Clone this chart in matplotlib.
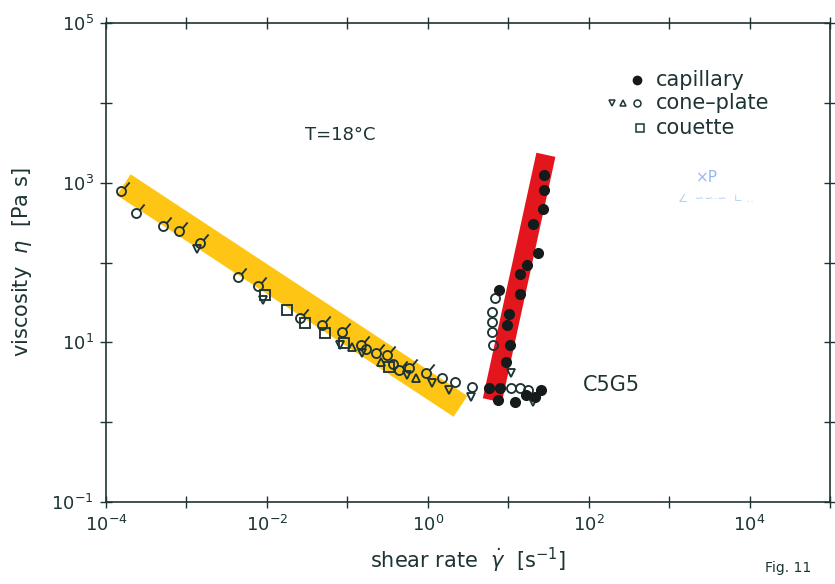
import numpy as np
import matplotlib
matplotlib.use("Agg")
import matplotlib.pyplot as plt
from matplotlib.path import Path

# --- data ------------------------------------------------------------------
# capillary (filled circles)
cap_x = [27.8, 27.8, 27.0, 20.4, 23.4, 17.2, 14.1, 14.1, 7.7, 10.3, 9.7, 10.6,
         9.4, 5.7, 8.0, 7.5, 12.2, 16.7, 21.5, 25.5]
cap_y = [1260, 817, 473, 307, 130, 94, 71, 40, 45, 23, 16.3, 9.4,
         5.6, 2.66, 2.66, 1.88, 1.78, 2.18, 2.05, 2.51]

# cone-plate, circles (drawn with a tail as in the original)
cpc_x = [1.53e-4, 2.34e-4, 5.06e-4, 7.96e-4, 1.49e-3, 4.39e-3, 7.74e-3, 0.0255,
         0.0477, 0.0867, 0.149, 0.228, 0.312, 0.438, 0.582, 0.944]
cpc_y = [794, 422, 290, 251, 178, 65, 51.6, 20,
         16.3, 13.3, 9.2, 7.3, 6.9, 4.47, 4.73, 4.1]

# cone-plate, plain circles (high shear rate)
cpo_x = [6.9, 6.2, 6.2, 6.2, 6.5, 10.9, 14.1, 17.7, 3.5, 2.2, 1.49, 0.17, 0.37]
cpo_y = [35.5, 23.7, 17.8, 13.3, 9.2, 2.66, 2.66, 2.51, 2.74, 3.16, 3.55, 8.2, 5.3]

# cone-plate, triangles down / up
tdn_x = [10.9, 20.4, 3.4, 1.82, 1.12, 0.153, 0.080, 0.0089, 0.00137, 0.55]
tdn_y = [4.1, 1.78, 2.05, 2.51, 3.07, 7.3, 9.2, 33.5, 150, 3.9]
tup_x = [0.263, 0.71, 0.115]
tup_y = [5.6, 3.55, 8.7]

# couette (squares)
cou_x = [0.00944, 0.0177, 0.0294, 0.052, 0.0918, 0.330]
cou_y = [38.7, 25.1, 17.3, 13.0, 9.7, 4.87]

# guide bands (start/end points)
yellow_x = [1.66e-4, 2.55]
yellow_y = [944, 1.58]
red_x = [6.34, 29.4]
red_y = [1.88, 2240]

INK = "#1e3434"
YELLOW = "#FFC515"
RED = "#E3161E"

plt.rcParams["font.family"] = ["DejaVu Sans"]

fig = plt.figure(figsize=(8.35, 5.84), dpi=100)
ax = fig.add_axes([0.127, 0.1404, 0.867, 0.820])
ax.set_xscale("log")
ax.set_yscale("log")
ax.set_xlim(1e-4, 1e5)
ax.set_ylim(1e-1, 1e5)

ax.plot(yellow_x, yellow_y, color=YELLOW, lw=18, solid_capstyle="butt", zorder=1)
ax.plot(red_x, red_y, color=RED, lw=14, solid_capstyle="butt", zorder=1)

# circle with a short tail to the upper right
tail = Path.make_compound_path(
    Path.unit_circle(),
    Path([(0.7, 0.7), (1.8, 2.0)], [Path.MOVETO, Path.LINETO]))

mk = dict(ls="none", mec=INK, mfc="none", mew=1.35, zorder=3)
ax.plot(cpc_x, cpc_y, marker=tail, ms=13, **mk)
ax.plot(cpo_x, cpo_y, marker="o", ms=6.5, **mk)
ax.plot(tdn_x, tdn_y, marker="v", ms=5.5, **mk)
ax.plot(tup_x, tup_y, marker="^", ms=5.5, **mk)
ax.plot(cou_x, cou_y, marker="s", ms=6.5, **mk)
ax.plot(cap_x, cap_y, ls="none", marker="o", ms=7, color="#151a1a", zorder=4)

# axes styling
for s in ax.spines.values():
    s.set_color(INK)
    s.set_linewidth(1.2)
ax.xaxis.set_major_locator(matplotlib.ticker.LogLocator(base=10, numticks=20))
ax.yaxis.set_major_locator(matplotlib.ticker.LogLocator(base=10, numticks=20))
ax.xaxis.set_minor_locator(matplotlib.ticker.NullLocator())
ax.yaxis.set_minor_locator(matplotlib.ticker.NullLocator())


def every_other(v, pos):
    e = int(round(np.log10(v)))
    return rf"$10^{{{e}}}$" if e % 2 == 0 else ""


def every_other_y(v, pos):
    e = int(round(np.log10(v)))
    return rf"$10^{{{e}}}$" if e % 2 == 1 else ""


ax.xaxis.set_major_formatter(matplotlib.ticker.FuncFormatter(every_other))
ax.yaxis.set_major_formatter(matplotlib.ticker.FuncFormatter(every_other_y))
ax.tick_params(which="major", direction="inout", length=8, width=1.0, color=INK,
               labelcolor=INK, labelsize=13, top=True, right=True, pad=5)

ax.set_xlabel(r"shear rate  $\dot{\gamma}$  [s$^{-1}$]", fontsize=15, color=INK,
              labelpad=8)
ax.set_ylabel(r"viscosity  $\eta$  [Pa s]", fontsize=15, color=INK, labelpad=12)

# annotations
ax.text(0.323, 0.766, "T=18°C", transform=ax.transAxes, ha="center", va="center",
        fontsize=13, color=INK)
ax.text(0.659, 0.244, "C5G5", transform=ax.transAxes, ha="left", va="center",
        fontsize=15, color=INK)

# hand-made legend
tr = ax.transAxes
lk = dict(transform=tr, clip_on=False, ls="none", mec=INK, mfc="none", mew=1.1)
ax.plot(0.733, 0.881, marker="o", ms=6, color="#151a1a", transform=tr, clip_on=False)
ax.plot(0.699, 0.833, marker="v", ms=5, **lk)
ax.plot(0.714, 0.833, marker="^", ms=5, **lk)
ax.plot(0.733, 0.833, marker="o", ms=5, **lk)
ax.plot(0.7376, 0.781, marker="s", ms=5.5, **lk)
for yy, lab in [(0.881, "capillary"), (0.833, "cone\u2013plate"), (0.781, "couette")]:
    ax.text(0.760, yy, lab, transform=tr, ha="left", va="center", fontsize=15,
            color=INK)

# faint handwritten note
ax.text(0.815, 0.678, "×P", transform=tr, ha="left", va="center", fontsize=11,
        color="#3f7ee0", alpha=0.55)
ax.text(0.79, 0.632, "∠  ∽∽·∽  ∟ ..", transform=tr, ha="left", va="center",
        fontsize=8, color="#6aa0e8", alpha=0.5)

fig.text(0.916, 0.015, "Fig. 11", fontsize=10, color=INK, ha="left", va="bottom")

fig.savefig("out.png", dpi=100, facecolor="white")
